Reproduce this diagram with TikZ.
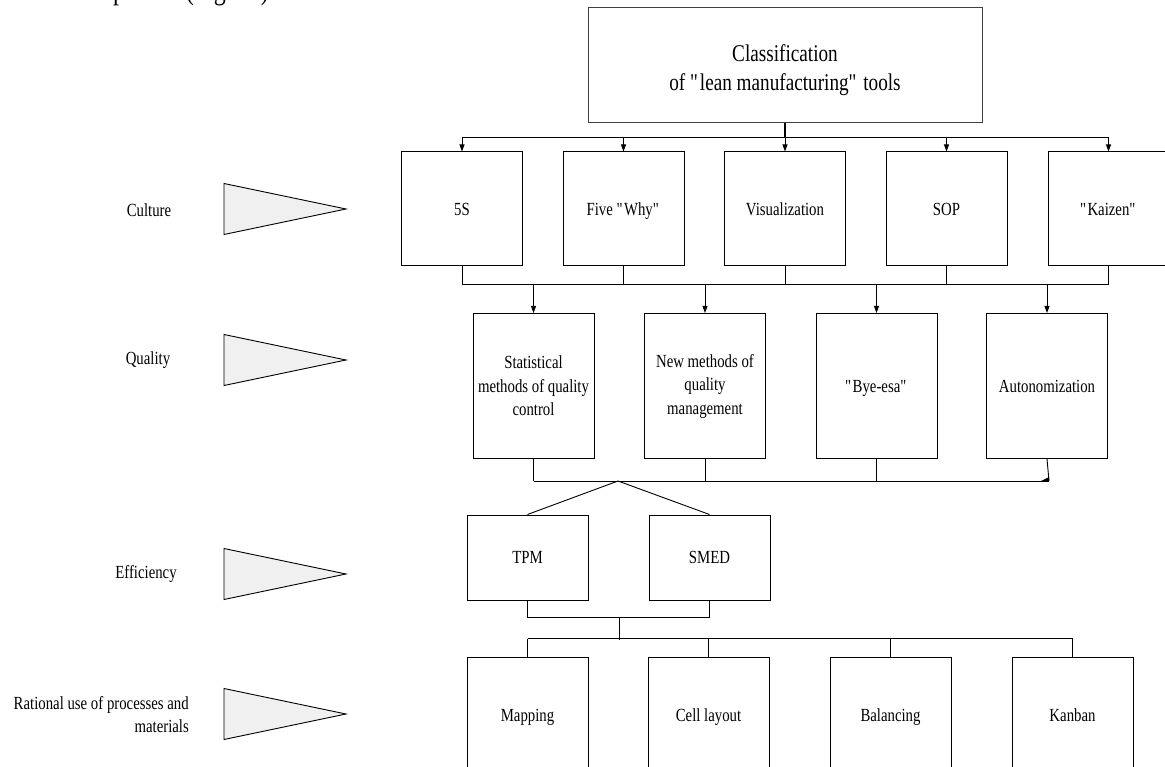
\documentclass[tikz,border=0pt]{standalone}
\usepackage{fontspec}
\setmainfont{Liberation Serif}[FakeStretch=0.8]
\usetikzlibrary{arrows.meta}
% straight double quotes (the TeX mapping would turn " into a curly one)
\newcommand{\quoted}[1]{\textquotedbl#1\textquotedbl}

\begin{document}
\begin{tikzpicture}[x=1pt,y=-1pt,
  every node/.style={font=\fontsize{18.5}{23.5}\selectfont},
  toolbox/.style={draw=black, line width=1pt, minimum width=121pt, align=center, inner sep=2pt},
  oneline/.style={toolbox, text height=12.3pt, text depth=0pt},
  link/.style={line width=0.9pt},
  arr/.style={link, -{Triangle[length=7pt,width=5pt]}},
  levelmark/.style={draw=black, line width=0.9pt, fill=black!6},
  levellabel/.style={inner sep=0pt}]

\useasboundingbox (0,0) rectangle (1165,767);

% last line of the preceding paragraph, cut by the top edge
\node[anchor=base west, inner sep=0pt, font=\fontsize{30}{34}\selectfont] (intro) at (53,-0.3) {in the picture (Fig.~11)};

% root
\node[toolbox, draw=black!75, minimum width=394pt, minimum height=115pt,
      font=\fontsize{24}{29}\selectfont] (cls) at (785,65.5)
      {\mbox{}\\[-2.5pt]Classification\\of \quoted{lean manufacturing} tools};

% culture
\node[oneline, minimum height=114pt] (s5)  at (462,209)    {5S};
\node[oneline, minimum height=114pt] (fw)  at (623.5,209)  {Five \quoted{Why}};
\node[oneline, minimum height=114pt] (vis) at (785,209)    {Visualization};
\node[oneline, minimum height=114pt] (sop) at (946.5,209)  {SOP};
\node[oneline, minimum height=114pt] (kz)  at (1108.5,209) {\quoted{Kaizen}};

% quality
\node[toolbox, minimum height=145pt] (stat) at (533.5,386) {Statistical\\methods of quality\\control};
\node[toolbox, minimum height=145pt] (nmq)  at (705,386)   {New methods of\\quality\\management};
\node[oneline, minimum height=145pt] (bye)  at (876.5,386) {\quoted{Bye-esa}};
\node[oneline, minimum height=145pt] (auto) at (1047,386)  {Autonomization};

% efficiency
\node[oneline, minimum height=85pt] (tpm)  at (527.5,557.5) {TPM};
\node[oneline, minimum height=85pt] (smed) at (709.5,557.5) {SMED};

% processes and materials
\node[oneline, minimum height=116pt] (map)  at (527.5,715)  {Mapping};
\node[oneline, minimum height=116pt] (cell) at (708.5,715)  {Cell layout};
\node[oneline, minimum height=116pt] (bal)  at (890.5,715)  {Balancing};
\node[oneline, minimum height=116pt] (kan)  at (1072.5,715) {Kanban};

% root -> culture
\coordinate (bus1) at (785,137);
\draw[link, line width=1.6pt] (cls.south) -- (bus1);
\draw[link] (s5.north |- bus1) -- (kz.north |- bus1);
\foreach \n in {s5,fw,vis,sop,kz} \draw[arr] (\n.north |- bus1) -- (\n.north);

% culture -> quality
\coordinate (bus2) at (785,284);
\foreach \n in {s5,fw,vis,sop,kz} \draw[link] (\n.south) -- (\n.south |- bus2);
\draw[link] (s5.south |- bus2) -- (kz.south |- bus2);
\foreach \n in {stat,nmq,bye,auto} \draw[arr] (\n.north |- bus2) -- (\n.north);

% quality -> efficiency
\coordinate (bus3) at (618,481);
\foreach \n in {stat,nmq,bye} \draw[link] (\n.south) -- (\n.south |- bus3);
\draw[link] (auto.south) -- ([xshift=2pt]auto.south |- bus3);
\draw[link] (stat.south |- bus3) -- ([xshift=2pt]auto.south |- bus3);
\fill ([xshift=-6pt]auto.south |- bus3) -- ([xshift=2pt,yshift=4pt]auto.south |- bus3) -- ([xshift=2pt]auto.south |- bus3) -- cycle;
\draw[link] (bus3) -- (tpm.north);
\draw[link] (bus3) -- (smed.north);

% efficiency -> processes and materials
\coordinate (bus4) at (619,617);
\coordinate (bus5) at (619,638.5);
\draw[link] (tpm.south) -- (tpm.south |- bus4) -- (smed.south |- bus4) -- (smed.south);
\draw[link] (bus4) -- ([yshift=-1pt]bus5);
\draw[link] (map.north |- bus5) -- (kan.north |- bus5);
\foreach \n in {map,cell,bal,kan} \draw[link] (\n.north |- bus5) -- (\n.north);

% level markers
\foreach \yy in {209,360,574,714}
  \draw[levelmark] (224,{\yy-25.5}) -- (346,\yy) -- (224,{\yy+25.5}) -- cycle;

\node[levellabel] (lc) at (149,210) {Culture};
\node[levellabel] (lq) at (148,360) {Quality};
\node[levellabel] (le) at (146,574) {Efficiency};
\node[levellabel, align=right, anchor=east] (lr) at (189,714.5) {Rational use of processes and\\materials};
\end{tikzpicture}
\end{document}
